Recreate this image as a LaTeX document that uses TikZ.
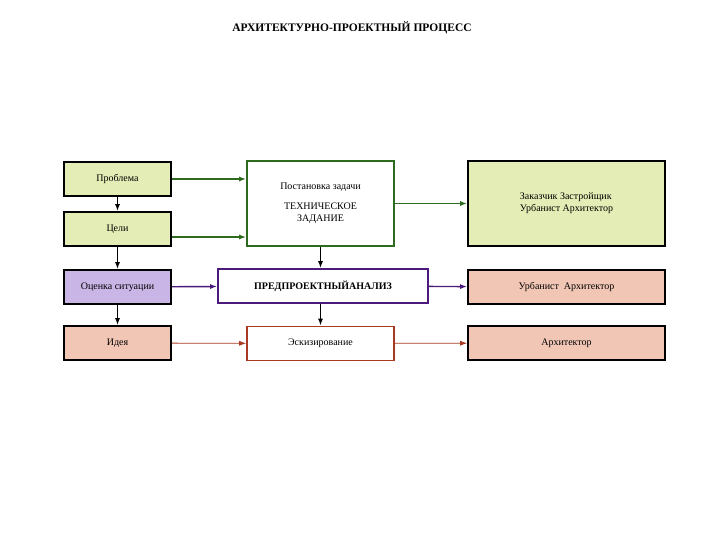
\documentclass[tikz,border=0pt]{standalone}
\usepackage{fontspec}
\setmainfont{Liberation Serif}
\usetikzlibrary{arrows.meta}
\definecolor{lgreen}{HTML}{E3EDB5}
\definecolor{dgreen}{HTML}{2E6B1E}
\definecolor{lviolet}{HTML}{C9B5E6}
\definecolor{dviolet}{HTML}{4B1A7A}
\definecolor{lpink}{HTML}{F1C6B5}
\definecolor{dred}{HTML}{A83A22}
\tikzset{
  box/.style={draw=black, line width=1.6pt, minimum height=34pt, inner sep=2pt, font=\fontsize{10}{12}\selectfont},
  arr/.style={-{Latex[length=7pt,width=5pt]}, line width=1.4pt},
}
\begin{document}
\begin{tikzpicture}[x=1pt,y=-1pt]
\useasboundingbox (0,0) rectangle (720,540);
\node[font=\bfseries\fontsize{11.5}{13}\selectfont] (title) at (352,28) {АРХИТЕКТУРНО-ПРОЕКТНЫЙ ПРОЦЕСС};
% left column
\node[box, fill=lgreen, minimum width=107pt] (prob) at (117.5,179) {Проблема};
\node[box, fill=lgreen, minimum width=107pt] (goal) at (117.5,229) {\raisebox{-4pt}{Цели}};
\node[box, fill=lviolet, minimum width=107pt] (eval) at (117.5,287) {Оценка ситуации};
\node[box, fill=lpink, minimum width=107pt] (idea) at (117.5,343) {Идея};
% middle column
\node[box, draw=dgreen, fill=white, minimum width=147pt, minimum height=85pt, align=center] (task) at (320.5,203.5) {Постановка задачи\\[8pt]ТЕХНИЧЕСКОЕ\\ЗАДАНИЕ};
\node[box, draw=dviolet, fill=white, minimum width=210pt, font=\bfseries\fontsize{10}{12}\selectfont] (pre) at (323,286) {ПРЕДПРОЕКТНЫЙАНАЛИЗ};
\node[box, draw=dred, fill=white, minimum width=147pt] (sketch) at (320.5,343.5) {Эскизирование};
% right column
\node[box, fill=lgreen, minimum width=197pt, minimum height=85pt, align=left] (client) at (566.5,203.5) {Заказчик Застройщик\\Урбанист Архитектор};
\node[box, fill=lpink, minimum width=197pt] (urb) at (566.5,287) {Урбанист\ \ Архитектор};
\node[box, fill=lpink, minimum width=197pt] (arch) at (566.5,343) {Архитектор};
% arrows
\draw[arr] (prob) -- (goal);
\draw[arr] (goal) -- (eval);
\draw[arr] (eval) -- (idea);
\draw[arr, dgreen] (prob.east) -- (prob.east -| task.west);
\draw[arr, dgreen] (goal.east) ++(0,8) coordinate (g1) -- (g1 -| task.west);
\draw[arr, dgreen] (task) -- (client);
\draw[arr] (task) -- (task |- pre.north);
\draw[arr, dviolet] (eval) -- (pre);
\draw[arr, dviolet] (pre) -- (urb);
\draw[arr] (pre.south -| sketch.north) -- (sketch);
\draw[arr, dred, line width=0.8pt] (idea) -- (sketch);
\draw[arr, dred, line width=0.8pt] (sketch) -- (arch);
\end{tikzpicture}
\end{document}
